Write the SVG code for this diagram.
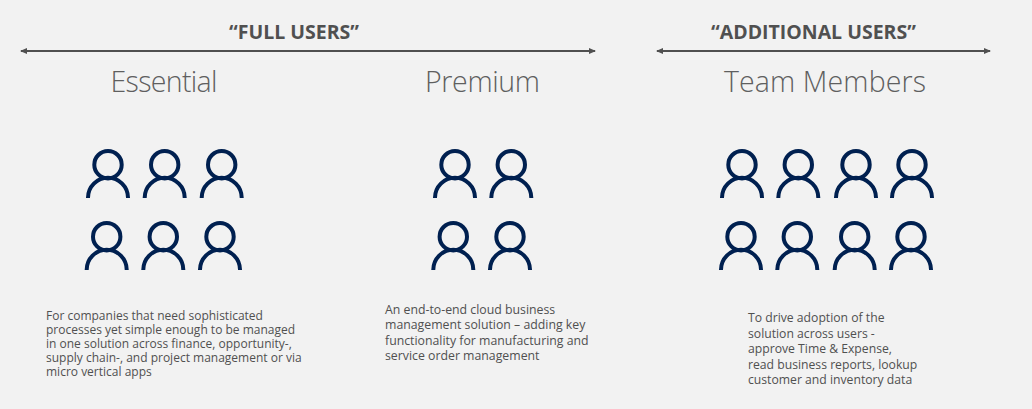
<svg xmlns="http://www.w3.org/2000/svg" width="1032" height="409" viewBox="0 0 1032 409">
<style>
.h{font-family:"Open Sans","Noto Sans",sans-serif;font-weight:700;font-size:19.5px;fill:#505050;text-anchor:middle}
.t{font-family:"Open Sans","Noto Sans",sans-serif;font-weight:300;font-size:28.5px;fill:#5f5f5f;text-anchor:middle}
.d{font-family:"Open Sans","Noto Sans",sans-serif;font-size:12px;fill:#505050}
.w{font-size:12.2px}
.c{stroke:#505050;stroke-width:2;fill:none;marker-start:url(#a);marker-end:url(#a)}
.p{fill:none;stroke:#002050;stroke-width:4}
</style>
<defs>
<marker id="a" viewBox="0 0 7 6" refX="6" refY="3" markerWidth="7" markerHeight="6" markerUnits="userSpaceOnUse" orient="auto-start-reverse"><path d="M0 0L7 3L0 6Z" fill="#505050"/></marker>
<g id="u"><circle class="p" cx="0" cy="0" r="13.7"/><path class="p" d="M-20 33.3V33A20 20 0 0 1 20 33V33.3"/></g>
</defs>
<rect width="1032" height="409" fill="#f2f2f2"/>
<g id="connectors">
<path class="c" d="M21 51H595"/>
<path class="c" d="M657 51H990"/>
</g>
<g id="full-users"><text class="h" x="294" y="38.5">“FULL USERS”</text></g>
<g id="additional-users"><text class="h" x="813.5" y="38.5">“ADDITIONAL USERS”</text></g>
<g id="essential">
<text class="t" x="164" y="92" textLength="107">Essential</text>
<use href="#u" x="108" y="164.7"/><use href="#u" x="164.7" y="164.7"/><use href="#u" x="221.7" y="164.7"/>
<use href="#u" x="106.7" y="236.7"/><use href="#u" x="163.3" y="236.7"/><use href="#u" x="220" y="236.7"/>
<text class="d"><tspan x="46" y="320">For companies that need sophisticated</tspan><tspan x="46" y="334">processes yet simple enough to be managed</tspan><tspan x="46" y="348">in one solution across finance, opportunity-,</tspan><tspan x="46" y="362">supply chain-, and project management or via</tspan><tspan x="46" y="376">micro vertical apps</tspan></text>
</g>
<g id="premium">
<text class="t" x="482.5" y="92" textLength="115">Premium</text>
<use href="#u" x="455" y="164.7"/><use href="#u" x="511.3" y="164.7"/>
<use href="#u" x="453.3" y="236.7"/><use href="#u" x="510" y="236.7"/>
<text class="d w" style="font-size:12.3px"><tspan x="385" y="314">An end-to-end cloud business</tspan><tspan x="385" y="329.3">management solution – adding key</tspan><tspan x="385" y="344.6">functionality for manufacturing and</tspan><tspan x="385" y="360">service order management</tspan></text>
</g>
<g id="team-members">
<text class="t" x="825" y="92" textLength="202">Team Members</text>
<use href="#u" x="742" y="164.7"/><use href="#u" x="798.3" y="164.7"/><use href="#u" x="856" y="164.7"/><use href="#u" x="912" y="164.7"/>
<use href="#u" x="741" y="236.7"/><use href="#u" x="797.3" y="236.7"/><use href="#u" x="854.7" y="236.7"/><use href="#u" x="911" y="236.7"/>
<text class="d w"><tspan x="748" y="322">To drive adoption of the</tspan><tspan x="748" y="337.5">solution across users -</tspan><tspan x="748" y="353">approve Time &amp; Expense,</tspan><tspan x="748" y="368.5">read business reports, lookup</tspan><tspan x="748" y="384">customer and inventory data</tspan></text>
</g>
</svg>
